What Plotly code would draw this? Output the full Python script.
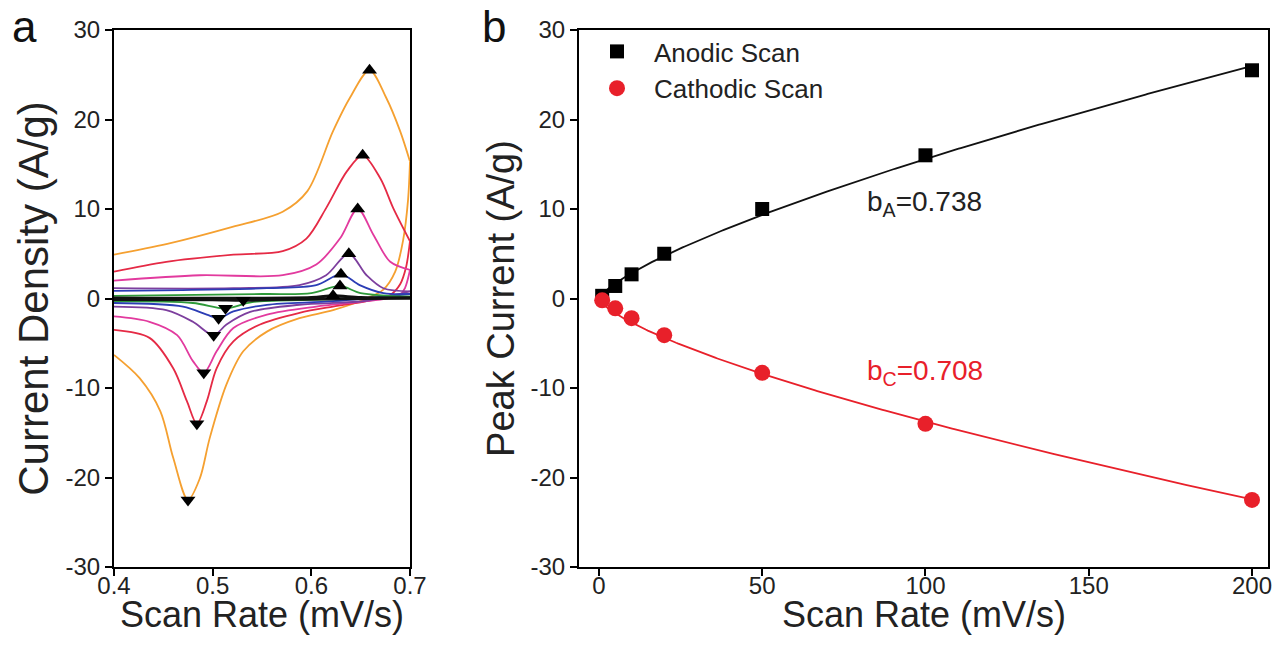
import numpy as np
import plotly.graph_objects as go

W, H = 1288, 658
FONT = "Arial, Liberation Sans, sans-serif"

# ---- peak analysis (panel b) ----
scan_rate = [1, 5, 10, 20, 50, 100, 200]            # mV/s
anodic_peak = [0.3, 1.4, 2.7, 5.0, 10.0, 16.0, 25.5]  # A/g
cathodic_peak = [-0.2, -1.1, -2.2, -4.1, -8.3, -14.0, -22.5]  # A/g
b_anodic = 0.738
b_cathodic = 0.708

# ---- peak potentials in the CVs (panel a) ----
anodic_peak_potential = [0.622, 0.629, 0.630, 0.638, 0.647, 0.652, 0.659]
cathodic_peak_potential = [0.531, 0.513, 0.506, 0.501, 0.491, 0.484, 0.475]

# ---- tick labels ----
current_ticks = [-30, -20, -10, 0, 10, 20, 30]
current_ticktext = ["-30", "-20", "-10", "0", "10", "20", "30"]
potential_ticks = [0.4, 0.5, 0.6, 0.7]
rate_ticks = [0, 50, 100, 150, 200]

# ---- cyclic voltammograms, forward (anodic) and reverse (cathodic) sweeps ----
e_fwd_1 = [0.400, 0.600, 0.622, 0.650, 0.700]
i_fwd_1 = [0.05, 0.1, 0.3, 0.1, 0.05]
e_rev_1 = [0.700, 0.560, 0.531, 0.500, 0.400]
i_rev_1 = [0.05, -0.1, -0.2, -0.15, -0.1]

e_fwd_5 = [0.400, 0.550, 0.600, 0.629, 0.650, 0.700]
i_fwd_5 = [0.3, 0.5, 0.6, 1.4, 0.6, 0.2]
e_rev_5 = [0.700, 0.600, 0.540, 0.513, 0.480, 0.400]
i_rev_5 = [0.2, -0.15, -0.4, -1.1, -0.5, -0.3]

e_fwd_10 = [0.400, 0.555, 0.605, 0.630, 0.649, 0.673, 0.700]
i_fwd_10 = [0.86, 1.15, 1.5, 2.7, 1.5, 0.6, 0.5]
e_rev_10 = [0.700, 0.622, 0.555, 0.521, 0.506, 0.494, 0.470, 0.400]
i_rev_10 = [0.5, -0.3, -0.7, -1.45, -2.2, -1.8, -0.9, -0.5]

e_fwd_20 = [0.400, 0.521, 0.588, 0.615, 0.638, 0.656, 0.673, 0.700]
i_fwd_20 = [1.15, 1.15, 1.5, 2.6, 5.0, 2.6, 1.15, 0.8]
e_rev_20 = [0.700, 0.656, 0.588, 0.538, 0.514, 0.501, 0.480, 0.453, 0.400]
i_rev_20 = [0.8, -0.25, -0.7, -1.5, -2.9, -4.1, -2.6, -1.3, -0.9]

e_fwd_50 = [0.400, 0.487, 0.571, 0.605, 0.629, 0.647, 0.663, 0.680, 0.700]
i_fwd_50 = [2.0, 2.6, 2.6, 3.8, 6.7, 10.0, 7.1, 4.1, 3.2]
e_rev_50 = [0.700, 0.695, 0.690, 0.656, 0.605, 0.555, 0.521, 0.504, 0.491, 0.480, 0.464, 0.436, 0.400]
i_rev_50 = [3.2, 1.2, 0.4, -0.3, -0.9, -1.8, -3.3, -5.9, -8.3, -7.0, -4.1, -2.6, -2.0]

e_fwd_100 = [0.400, 0.453, 0.521, 0.571, 0.595, 0.615, 0.636, 0.652, 0.670, 0.683, 0.700]
i_fwd_100 = [3.0, 4.1, 4.9, 5.3, 6.7, 10.1, 14.2, 16.0, 13.4, 10.1, 6.4]
e_rev_100 = [0.700, 0.696, 0.690, 0.680, 0.656, 0.622, 0.588, 0.548, 0.521, 0.504, 0.494, 0.484, 0.474, 0.460, 0.436, 0.400]
i_rev_100 = [6.4, 3.5, 1.6, 0.4, -0.3, -0.9, -1.6, -2.9, -4.8, -7.8, -11.5, -14.0, -11.5, -7.8, -4.4, -3.5]

e_fwd_200 = [0.400, 0.454, 0.520, 0.571, 0.596, 0.622, 0.639, 0.659, 0.676, 0.690, 0.700]
i_fwd_200 = [4.9, 6.1, 8.0, 9.7, 12.0, 18.7, 22.4, 25.5, 22.4, 18.7, 15.3]
e_rev_200 = [0.700, 0.698, 0.693, 0.685, 0.673, 0.656, 0.622, 0.588, 0.555, 0.531, 0.514,
             0.497, 0.487, 0.475, 0.460, 0.447, 0.426, 0.400]
i_rev_200 = [15.3, 11.0, 6.5, 3.0, 1.0, 0.0, -1.3, -2.2, -3.7, -5.9, -9.6,
             -15.6, -20.1, -22.5, -17.8, -12.6, -8.9, -6.3]

cv_colors = ["#111111", "#2E9A3A", "#2B3DB5", "#7D3F9E", "#E23A9E", "#E52A45", "#F5A030"]
cv_widths = [3.0, 1.8, 1.8, 1.8, 1.8, 1.8, 1.8]

cv_sweeps = [
    (e_fwd_1, i_fwd_1, e_rev_1, i_rev_1),
    (e_fwd_5, i_fwd_5, e_rev_5, i_rev_5),
    (e_fwd_10, i_fwd_10, e_rev_10, i_rev_10),
    (e_fwd_20, i_fwd_20, e_rev_20, i_rev_20),
    (e_fwd_50, i_fwd_50, e_rev_50, i_rev_50),
    (e_fwd_100, i_fwd_100, e_rev_100, i_rev_100),
    (e_fwd_200, i_fwd_200, e_rev_200, i_rev_200),
]

fig = go.Figure()

# panel a: draw largest scan rate first so slow scans sit on top
for k in range(len(cv_sweeps) - 1, -1, -1):
    ef, jf, er, jr = cv_sweeps[k]
    for ex, jy in ((ef, jf), (er, jr)):
        fig.add_trace(go.Scatter(
            x=ex, y=jy, mode="lines", xaxis="x", yaxis="y",
            line=dict(color=cv_colors[k], width=cv_widths[k], shape="spline", smoothing=0.9),
            showlegend=False, hoverinfo="skip"))

fig.add_trace(go.Scatter(
    x=anodic_peak_potential, y=anodic_peak, mode="markers", xaxis="x", yaxis="y",
    marker=dict(symbol="triangle-up", size=13, color="black"), showlegend=False))
fig.add_trace(go.Scatter(
    x=cathodic_peak_potential, y=cathodic_peak, mode="markers", xaxis="x", yaxis="y",
    marker=dict(symbol="triangle-down", size=13, color="black"), showlegend=False))

# panel b: power-law fits i = a * v^b with the stated exponents
v = np.asarray(scan_rate, dtype=float)
v_fit = np.linspace(1, 200, 300)
for peaks, b, col in ((anodic_peak, b_anodic, "#111111"), (cathodic_peak, b_cathodic, "#E8202A")):
    yk = np.asarray(peaks, dtype=float)
    a = np.sum(yk * v ** b) / np.sum(v ** (2 * b))
    fig.add_trace(go.Scatter(
        x=v_fit, y=a * v_fit ** b, mode="lines", xaxis="x2", yaxis="y2",
        line=dict(color=col, width=1.8), showlegend=False, hoverinfo="skip"))

fig.add_trace(go.Scatter(
    x=scan_rate, y=anodic_peak, mode="markers", name="Anodic Scan", xaxis="x2", yaxis="y2",
    marker=dict(symbol="square", size=14, color="black")))
fig.add_trace(go.Scatter(
    x=scan_rate, y=cathodic_peak, mode="markers", name="Cathodic Scan", xaxis="x2", yaxis="y2",
    marker=dict(symbol="circle", size=16, color="#E8202A")))

axis_common = dict(
    showline=True, linecolor="black", linewidth=2, mirror=True,
    ticks="outside", ticklen=7, tickwidth=2, tickcolor="black",
    showgrid=False, zeroline=False, automargin=False,
    tickfont=dict(family=FONT, size=24, color="#222222"),
)

ydom = [1 - 567 / H, 1 - 30 / H]
xdom_a = [114 / W, 410 / W]
xdom_b = [579 / W, 1268 / W]
xtitle_y = 1 - 614 / H

fig.update_layout(
    width=W, height=H,
    margin=dict(l=0, r=0, t=0, b=0),
    paper_bgcolor="white", plot_bgcolor="white",
    font=dict(family=FONT, color="#222222"),
    xaxis=dict(axis_common, domain=xdom_a, range=[0.4, 0.7],
               tickvals=potential_ticks, tickformat=".1f", ticklabelstandoff=-11, anchor="y"),
    yaxis=dict(axis_common, domain=ydom, range=[-30, 30],
               tickvals=current_ticks, ticktext=current_ticktext,
               title=dict(text="Current Density (A/g)", font=dict(size=42), standoff=4), anchor="x"),
    xaxis2=dict(axis_common, domain=xdom_b, range=[-6.1, 204.9],
                tickvals=rate_ticks, ticklabelstandoff=-11, anchor="y2"),
    yaxis2=dict(axis_common, domain=ydom, range=[-30, 30],
                tickvals=current_ticks, ticktext=current_ticktext,
                title=dict(text="Peak Current (A/g)", font=dict(size=38), standoff=4), anchor="x2"),
    legend=dict(x=580 / W, y=1 - 28 / H, xanchor="left", yanchor="top",
                font=dict(family=FONT, size=26, color="#222222"),
                bgcolor="rgba(0,0,0,0)", itemwidth=64, tracegroupgap=0),
    annotations=[
        dict(text="a", x=10 / W, y=1, xref="paper", yref="paper",
             xanchor="left", yanchor="top", showarrow=False,
             font=dict(family=FONT, size=44, color="#111111")),
        dict(text="b", x=480 / W, y=1, xref="paper", yref="paper",
             xanchor="left", yanchor="top", showarrow=False,
             font=dict(family=FONT, size=44, color="#111111")),
        # x-axis titles
        dict(text="Scan Rate (mV/s)", x=sum(xdom_a) / 2, y=xtitle_y, xref="paper", yref="paper",
             xanchor="center", yanchor="middle", showarrow=False,
             font=dict(family=FONT, size=36, color="#222222")),
        dict(text="Scan Rate (mV/s)", x=sum(xdom_b) / 2, y=xtitle_y, xref="paper", yref="paper",
             xanchor="center", yanchor="middle", showarrow=False,
             font=dict(family=FONT, size=36, color="#222222")),
        dict(text="b<sub>A</sub>=0.738", x=81.5, y=10.6, xref="x2", yref="y2",
             xanchor="left", yanchor="middle", showarrow=False,
             font=dict(family=FONT, size=28, color="#222222")),
        dict(text="b<sub>C</sub>=0.708", x=81.5, y=-8.3, xref="x2", yref="y2",
             xanchor="left", yanchor="middle", showarrow=False,
             font=dict(family=FONT, size=28, color="#E8202A")),
    ],
)

fig.write_html("out.html")
